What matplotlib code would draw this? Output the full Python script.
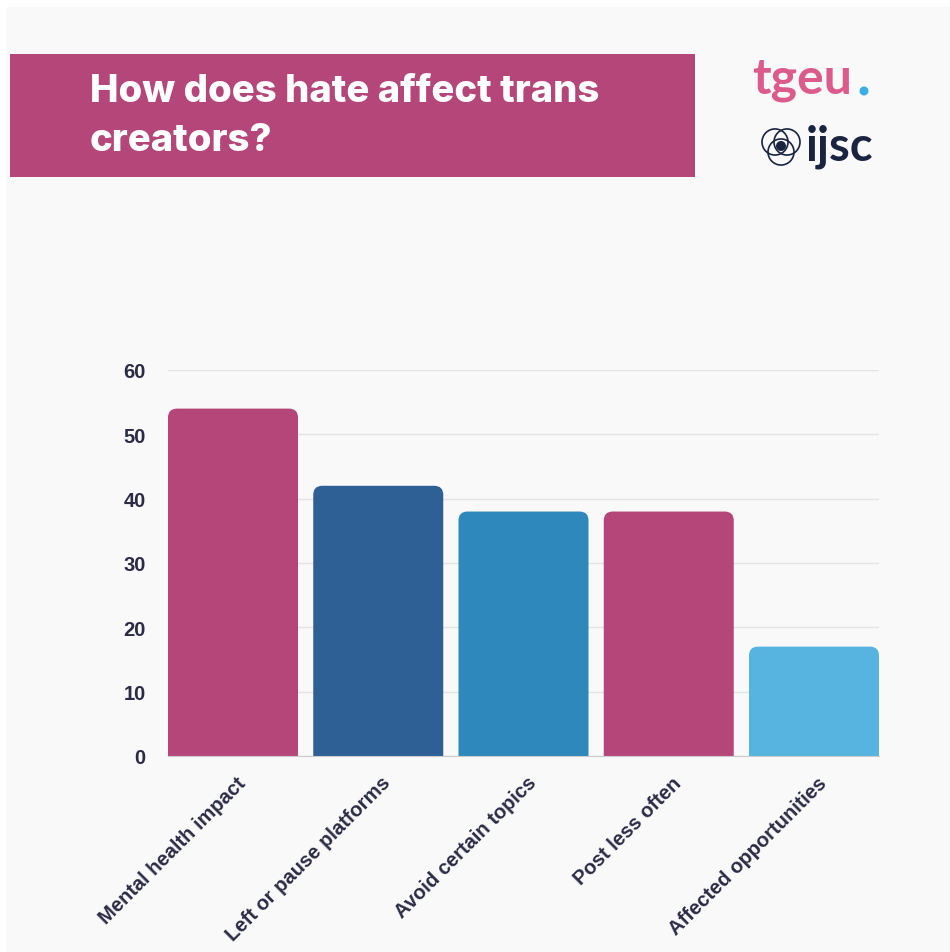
import matplotlib.pyplot as plt
import matplotlib.transforms as mtransforms
from matplotlib.patches import Rectangle, Circle, PathPatch
from matplotlib.path import Path
import numpy as np

#%% Data
categories = ['Mental health impact', 'Left or pause platforms', 'Avoid certain topics',
              'Post less often', 'Affected opportunities']
values = [54, 42, 38, 38, 17]
bar_colors = ['#b5467a', '#2e6096', '#2e88bb', '#b5467a', '#57b4e1']
yticks = [0, 10, 20, 30, 40, 50, 60]

TEXT = '#2b2b45'
PINK = '#b5467a'


def top_rounded_bar(bx, bw, bh, rx, ry):
    # bar outline with rounded top corners (quadratic curves)
    verts = [(bx, 0), (bx, bh - ry), (bx, bh), (bx + rx, bh),
             (bx + bw - rx, bh), (bx + bw, bh), (bx + bw, bh - ry),
             (bx + bw, 0), (bx, 0)]
    codes = [Path.MOVETO, Path.LINETO, Path.CURVE3, Path.CURVE3,
             Path.LINETO, Path.CURVE3, Path.CURVE3, Path.LINETO, Path.CLOSEPOLY]
    return Path(verts, codes)


#%% Figure + background panel
fig = plt.figure(figsize=(9.5, 9.53), dpi=100)
fig.patch.set_facecolor('white')
fig.patches.append(Rectangle((6/950, 0), 1, 945/953, transform=fig.transFigure,
                             facecolor='#f9f9f9', edgecolor='none', zorder=0))

# title band
fig.patches.append(Rectangle((10/950, 1 - 178/953), 685/950, 123/953, transform=fig.transFigure,
                             facecolor=PINK, edgecolor='none', zorder=1))
fig.text(90/950, 1 - 92/953, 'How does hate affect trans', color='white', fontsize=27.5,
         fontweight='heavy', family='Inter', va='center', ha='left')
fig.text(90/950, 1 - 141/953, 'creators?', color='white', fontsize=27.5,
         fontweight='heavy', family='Inter', va='center', ha='left')

# logos (text approximation)
fig.text(752/950, 1 - 80/953, 'tgeu', color='#dc5a8c', fontsize=36, fontweight='bold',
         family='Lato', va='center', ha='left')
fig.patches.append(Circle((864/950, 1 - 92/953), 4.5/950, transform=fig.transFigure,
                          facecolor='#3aaee0', edgecolor='none'))
fig.text(806/950, 1 - 147/953, 'ijsc', color='#1a2340', fontsize=34, fontweight='bold',
         family='Lato', va='center', ha='left')
for dx, dy in [(-6, -4), (6, -4), (0, 6)]:
    fig.patches.append(Circle(((781 + dx)/950, 1 - (147 + dy)/953), 13/950,
                              transform=fig.transFigure, facecolor='none',
                              edgecolor='#1a2340', linewidth=1.2))
fig.patches.append(Circle((781/950, 1 - 147/953), 5/950, transform=fig.transFigure,
                          facecolor='#1a2340', edgecolor='none'))

#%% Chart
ax = fig.add_axes([168/950, 196/953, 711/950, 386/953])
ax.set_facecolor('none')
ax.set_zorder(5)

x = np.arange(len(categories))
width = 0.895
bars = ax.bar(x, values, width=width, color=bar_colors, alpha=0)

ax.set_xlim(-width/2, len(categories) - 1 + width/2)
ax.set_ylim(0, 60)

# redraw bars with rounded top corners
xpx = 711 / (ax.get_xlim()[1] - ax.get_xlim()[0])
ypx = 386 / 60
for b, c in zip(bars, bar_colors):
    p = top_rounded_bar(b.get_x(), b.get_width(), b.get_height(), 9 / xpx, 9 / ypx)
    ax.add_patch(PathPatch(p, facecolor=c, edgecolor='none', zorder=3))

ax.set_yticks(yticks)
ax.grid(axis='y', color='#e4e4e4', linewidth=1, zorder=0)
ax.set_axisbelow(True)
for s in ['top', 'right', 'left']:
    ax.spines[s].set_visible(False)
ax.spines['bottom'].set_color('#cccccc')
ax.spines['bottom'].set_zorder(4)
ax.tick_params(axis='both', length=0, colors=TEXT)
ax.tick_params(axis='y', pad=16)

ax.set_xticks(x)
ax.set_xticklabels(categories, rotation=45, ha='right', rotation_mode='anchor',
                   fontsize=14.5, fontweight='bold', color=TEXT, family='Liberation Sans')
ax.tick_params(axis='x', pad=12)
offset = mtransforms.ScaledTranslation(3/100, 0, fig.dpi_scale_trans)
for lab in ax.get_xticklabels():
    lab.set_transform(lab.get_transform() + offset)
for lab in ax.get_yticklabels():
    lab.set_fontweight('bold')
    lab.set_family('Liberation Sans')
    lab.set_fontsize(14.5)

fig.savefig('out.png', dpi=100, facecolor=fig.get_facecolor())
